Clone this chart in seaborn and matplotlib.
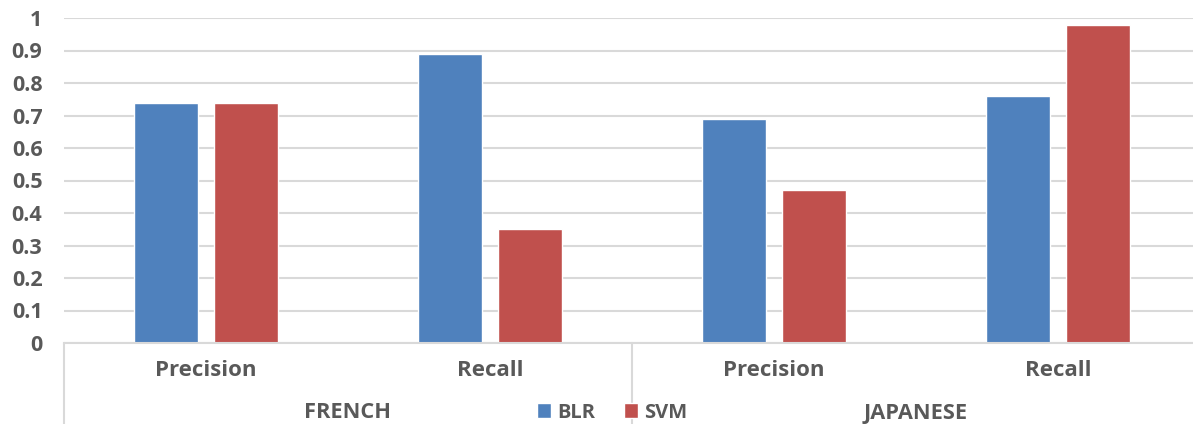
import pandas as pd
import seaborn as sns
import matplotlib.pyplot as plt
from matplotlib import transforms
from matplotlib.patches import Patch

languages = ["FRENCH", "FRENCH", "JAPANESE", "JAPANESE"]
metrics = ["Precision", "Recall", "Precision", "Recall"]
blr = [0.74, 0.89, 0.69, 0.76]
svm = [0.74, 0.35, 0.47, 0.98]
models = ["BLR", "SVM"]
colors = {"BLR": "#4F81BD", "SVM": "#C0504D"}
y_ticks = [0, 0.1, 0.2, 0.3, 0.4, 0.5, 0.6, 0.7, 0.8, 0.9, 1.0]
y_labels = ["0", "0.1", "0.2", "0.3", "0.4", "0.5", "0.6", "0.7", "0.8", "0.9", "1"]

keys = [f"{l}|{m}" for l, m in zip(languages, metrics)]
df = pd.DataFrame({
    "key": keys * 2,
    "model": ["BLR"] * 4 + ["SVM"] * 4,
    "value": blr + svm,
})

sns.set_style("white")
plt.rcParams["font.family"] = ["Open Sans", "DejaVu Sans"]
text_col = "#595959"
grid_col = "#D9D9D9"

fig = plt.figure(figsize=(11.93, 4.24), dpi=100)
ax = fig.add_axes([64 / 1193, 81 / 424, 1136 / 1193, 325 / 424])

sns.barplot(data=df, x="key", y="value", hue="model", order=keys,
            hue_order=models, palette=colors, width=0.563, gap=0.2,
            saturation=1, legend=False, ax=ax)

ax.set_xlim(-0.5, 3.5)
ax.set_ylim(0, 1)
ax.set_yticks(y_ticks)
ax.set_yticklabels(y_labels)
ax.yaxis.grid(True, color=grid_col, linewidth=1.5)
ax.set_axisbelow(True)
for s in ["top", "right", "left"]:
    ax.spines[s].set_visible(False)
ax.spines["bottom"].set_color(grid_col)
ax.spines["bottom"].set_linewidth(1.5)
ax.set_xlabel("")
ax.set_ylabel("")
ax.set_xticks(range(4))
ax.set_xticklabels(metrics)
ax.tick_params(axis="x", length=0, pad=12, labelsize=16, labelcolor=text_col)
ax.tick_params(axis="y", length=0, pad=15.5, labelsize=15.5, labelcolor=text_col)
for lab in ax.get_xticklabels() + ax.get_yticklabels():
    lab.set_fontweight("bold")

trans = transforms.blended_transform_factory(ax.transData, ax.transAxes)
for x in [-0.5, 1.5, 3.5]:
    ax.plot([x, x], [0, -0.3], transform=trans, color=grid_col,
            linewidth=1.5, clip_on=False)
for pos, name in [(0.5, "FRENCH"), (2.5, "JAPANESE")]:
    ax.text(pos, -70 / 325, name, transform=trans, ha="center", va="center",
            fontsize=15.7, fontweight="bold", color=text_col)

handles = [Patch(facecolor=colors[m], label=m) for m in models]
leg = fig.legend(handles=handles, loc="center", bbox_to_anchor=(612 / 1193, 11.5 / 424),
                 ncol=2, frameon=False, handlelength=0.7, handleheight=0.7,
                 handletextpad=0.3, columnspacing=1.4, fontsize=14.5,
                 borderpad=0, borderaxespad=0)
for t in leg.get_texts():
    t.set_color(text_col)
    t.set_fontweight("bold")

fig.savefig("out.png", dpi=100)
